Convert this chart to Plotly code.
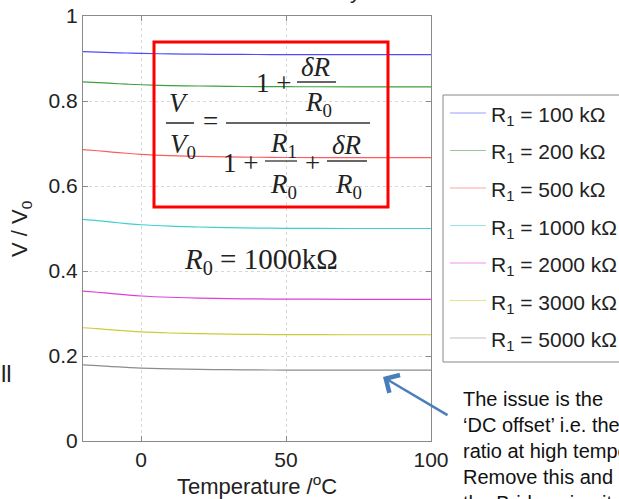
import plotly.graph_objects as go

# ---- data ----
temperature = [-20, -15, -10, -5, 0, 10, 20, 30, 40, 50, 60, 80, 100]
r1_labels = ["100", "200", "500", "1000", "2000", "3000", "5000"]
v_r100 = [0.9160, 0.9150, 0.9139, 0.9129, 0.9120, 0.9109, 0.9102, 0.9097, 0.9094, 0.9093, 0.9092, 0.9091, 0.9091]
v_r200 = [0.8450, 0.8434, 0.8415, 0.8397, 0.8382, 0.8363, 0.8353, 0.8344, 0.8339, 0.8336, 0.8335, 0.8333, 0.8333]
v_r500 = [0.6855, 0.6829, 0.6799, 0.6770, 0.6745, 0.6715, 0.6698, 0.6684, 0.6676, 0.6671, 0.6669, 0.6667, 0.6667]
v_r1000 = [0.5215, 0.5185, 0.5150, 0.5117, 0.5088, 0.5054, 0.5035, 0.5020, 0.5010, 0.5005, 0.5002, 0.5000, 0.5000]
v_r2000 = [0.3528, 0.3500, 0.3468, 0.3438, 0.3412, 0.3382, 0.3364, 0.3351, 0.3342, 0.3338, 0.3336, 0.3333, 0.3333]
v_r3000 = [0.2665, 0.2642, 0.2614, 0.2589, 0.2567, 0.2541, 0.2526, 0.2515, 0.2507, 0.2504, 0.2502, 0.2500, 0.2500]
v_r5000 = [0.1790, 0.1772, 0.1752, 0.1733, 0.1716, 0.1697, 0.1686, 0.1678, 0.1672, 0.1669, 0.1668, 0.1667, 0.1667]
series = [v_r100, v_r200, v_r500, v_r1000, v_r2000, v_r3000, v_r5000]
colors = ["#4d4dff", "#3fa03f", "#ff5c5c", "#3fcfcf", "#dd3fdd", "#cccc3a", "#8c8c8c"]
x_ticks = [0, 50, 100]
y_ticks = [0, 0.2, 0.4, 0.6, 0.8, 1]

W, H = 619, 499
L, R, T, B = 83, 431, 16, 441   # plot area in pixels


def px(x):
    return (x - L) / (R - L)


def py(y):
    return (B - y) / (B - T)


fig = go.Figure()
for name, vals, c in zip(r1_labels, series, colors):
    fig.add_trace(go.Scatter(x=temperature, y=vals, mode="lines", line=dict(color=c, width=1.2, shape="spline"),
                             name=f"R<sub>1</sub> = {name} kΩ", showlegend=False))

shapes = []
ann = []
serif = "Liberation Serif, Times New Roman, serif"
sans = "Liberation Sans, Arial, sans-serif"
ink = "#222222"


def text(x, y, s, size=26, font=serif, xanchor="center", yanchor="middle", color=ink, **kw):
    ann.append(dict(x=px(x), y=py(y), xref="paper", yref="paper", text=s, showarrow=False,
                    xanchor=xanchor, yanchor=yanchor, font=dict(family=font, size=size, color=color), **kw))


def hline(x0, x1, y, color="#333333", width=1.6):
    shapes.append(dict(type="line", xref="paper", yref="paper", x0=px(x0), x1=px(x1), y0=py(y), y1=py(y),
                       line=dict(color=color, width=width)))


# red box with formula
shapes.append(dict(type="rect", xref="paper", yref="paper", x0=px(154), x1=px(388), y0=py(207), y1=py(42),
                   line=dict(color="#ff0000", width=3)))
text(179, 103, "<i>V</i>", size=27)
hline(166, 194, 123)
text(168, 146, "<i>V</i><sub>0</sub>", xanchor="left", size=27)
text(210, 121, "=", size=27)
hline(226, 370, 123)
text(273, 83, "1 +", size=27)
text(316, 67, "<i>δR</i>", size=27)
hline(297, 336, 82, width=1.3)
text(303, 104, "<i>R</i><sub>0</sub>", xanchor="left", size=27)
text(240, 163, "1 +", size=27)
text(268, 145, "<i>R</i><sub>1</sub>", xanchor="left", size=27)
hline(265, 297, 161, width=1.3)
text(268, 186, "<i>R</i><sub>0</sub>", xanchor="left", size=27)
text(312, 163, "+", size=27)
text(347, 145, "<i>δR</i>", size=27)
hline(327, 367, 161, width=1.3)
text(333, 186, "<i>R</i><sub>0</sub>", xanchor="left", size=27)

text(182, 261, "<i>R</i><sub>0</sub> = 1000kΩ", size=29, xanchor="left")

# manual legend
shapes.append(dict(type="rect", xref="paper", yref="paper", x0=px(443), x1=px(640), y0=py(362), y1=py(95),
                   line=dict(color="#888888", width=1), fillcolor="white", layer="above"))
for i, (name, c) in enumerate(zip(r1_labels, colors)):
    yy = 113 + i * 37.5
    shapes.append(dict(type="line", xref="paper", yref="paper", x0=px(450), x1=px(486), y0=py(yy), y1=py(yy),
                       line=dict(color=c, width=1.2), opacity=0.55, layer="above"))
    text(489, yy + 3, f"R<sub>1</sub> = {name} kΩ", size=21, font=sans, xanchor="left")

# axis titles
text(257, 485, "Temperature /<sup>o</sup>C", size=22, font=sans)
text(21, 229, "V / V<sub>0</sub>", size=22, font=sans, textangle=-90)

# side texts
text(-1, 373, "ll", size=24, font=sans, xanchor="left")
text(355, -9, "y", size=22, font=sans)
ann.append(dict(x=px(461), y=py(386), xref="paper", yref="paper", showarrow=False, xanchor="left", yanchor="top",
                align="left", font=dict(family=sans, size=20, color="#111111"),
                text="The issue is the<br>‘DC offset’ i.e. the<br>ratio at high temperatures.<br>Remove this and use<br>the Bridge circuit"))
# arrow
ann.append(dict(x=px(383), y=py(377), xref="paper", yref="paper", ax=66, ay=39, axref="pixel", ayref="pixel",
                text="", showarrow=True, arrowhead=4, arrowsize=1.6, arrowwidth=2.5, arrowcolor="#4a7ebb"))

axis_common = dict(showline=True, linecolor="#8a8a8a", linewidth=1, mirror="ticks", ticks="inside", ticklen=5,
                   tickcolor="#8a8a8a", showgrid=True, gridcolor="#d8d8d8", griddash="dot", gridwidth=1,
                   zeroline=False, tickfont=dict(family=sans, size=21, color=ink))
fig.update_xaxes(range=[-20, 100], tickvals=x_ticks, ticktext=[str(v) for v in x_ticks], **axis_common)
fig.update_yaxes(range=[0, 1], tickvals=y_ticks, ticktext=["0", "0.2", "0.4", "0.6", "0.8", "1"], **axis_common)

fig.update_layout(width=W, height=H, margin=dict(l=L, r=W - R, t=T, b=H - B, autoexpand=False),
                  paper_bgcolor="white", plot_bgcolor="white", shapes=shapes, annotations=ann, showlegend=False)

fig.write_html("out.html")
